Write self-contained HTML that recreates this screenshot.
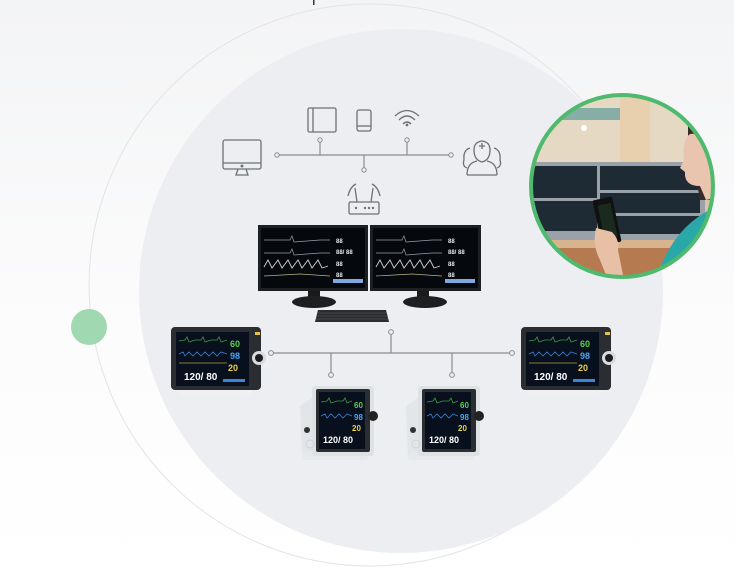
<!DOCTYPE html>
<html><head><meta charset="utf-8"><style>
html,body{margin:0;padding:0;background:#fff}
svg{display:block}
</style></head><body>
<svg width="734" height="569" viewBox="0 0 734 569" xmlns="http://www.w3.org/2000/svg" font-family="Liberation Sans, sans-serif">
<defs>
<linearGradient id="bg" x1="0" y1="0" x2="0" y2="1">
<stop offset="0" stop-color="#f3f4f5"/><stop offset="0.5" stop-color="#fbfbfc"/><stop offset="1" stop-color="#ffffff"/>
</linearGradient>
<clipPath id="pc"><circle cx="622" cy="186" r="90"/></clipPath>
<g id="bed">
<rect x="8" y="60" width="72" height="9" rx="3" fill="#eef0f2"/>
<rect x="0" y="0" width="90" height="63" rx="4" fill="#2a2d31"/>
<rect x="5" y="5" width="73" height="54" fill="#07101c"/>
<polyline points="8,14 14,13 16,10 18,15 24,13 30,13 32,10 34,15 40,13 46,13 48,10 50,15 56,13" fill="none" stroke="#3c9a44" stroke-width="0.8"/>
<polyline points="8,27 12,25 14,29 18,25 22,29 26,25 30,29 34,25 38,29 42,25 46,29 50,25 56,27" fill="none" stroke="#3a7fd0" stroke-width="0.8"/>
<polyline points="8,36 56,36" stroke="#b9a23a" stroke-width="0.8"/>
<text x="59" y="20" font-size="9" fill="#59d04b" font-weight="bold">60</text>
<text x="59" y="32" font-size="9" fill="#4aa5f0" font-weight="bold">98</text>
<text x="57" y="44" font-size="9" fill="#e5d24a" font-weight="bold">20</text>
<text x="13" y="53" font-size="10" fill="#fff" font-weight="bold">120/ 80</text>
<rect x="52" y="52" width="22" height="3" fill="#3d84d6"/>
<rect x="84" y="5" width="5" height="3" fill="#e8c23a"/>
<circle cx="88" cy="31" r="7" fill="#d9dbde"/><circle cx="88" cy="31" r="4" fill="#1a1c1f"/>
</g>
<g id="cart">
<path d="M2,22 L20,10 L20,72 L4,74 Z" fill="#e3e6e9"/>
<rect x="4" y="68" width="66" height="8" rx="3" fill="#e6e9ec"/>
<rect x="14" y="2" width="62" height="70" rx="3" fill="#dfe2e5"/>
<rect x="18" y="5" width="54" height="63" rx="2" fill="#2a2d31"/>
<rect x="21" y="8" width="46" height="57" fill="#07101c"/>
<polyline points="23,18 29,17 31,14 33,19 39,17 45,17 47,14 49,19 54,17" fill="none" stroke="#3c9a44" stroke-width="0.8"/>
<polyline points="23,32 27,30 29,34 33,30 37,34 41,30 45,34 49,30 54,32" fill="none" stroke="#3a7fd0" stroke-width="0.8"/>
<text x="56" y="24" font-size="8" fill="#59d04b" font-weight="bold">60</text>
<text x="56" y="36" font-size="8" fill="#4aa5f0" font-weight="bold">98</text>
<text x="54" y="47" font-size="8" fill="#e5d24a" font-weight="bold">20</text>
<text x="25" y="59" font-size="9" fill="#fff" font-weight="bold">120/ 80</text>
<circle cx="75" cy="32" r="5" fill="#222"/>
<circle cx="9" cy="46" r="3" fill="#333"/>
<circle cx="12" cy="60" r="4" fill="none" stroke="#cfd3d7"/>
</g>
</defs>
<rect width="734" height="569" fill="url(#bg)"/>
<rect x="313" y="0" width="1.5" height="5" fill="#333"/>
<circle cx="370" cy="285" r="281" fill="none" stroke="#e2e4e6" stroke-width="1"/>
<circle cx="401" cy="291" r="262" fill="#eceef1"/>
<circle cx="89" cy="327" r="18" fill="#9fd8b1"/>

<g stroke="#8a8d91" stroke-width="1.2" fill="none">
<line x1="279" y1="155" x2="449" y2="155"/>
<line x1="320" y1="142" x2="320" y2="155"/>
<line x1="407" y1="142" x2="407" y2="155"/>
<line x1="364" y1="155" x2="364" y2="168"/>
</g>
<g fill="#eceef1" stroke="#8a8d91" stroke-width="1">
<circle cx="277" cy="155" r="2.2"/><circle cx="451" cy="155" r="2.2"/>
<circle cx="320" cy="140" r="2.2"/><circle cx="407" cy="140" r="2.2"/><circle cx="364" cy="170" r="2.2"/>
</g>
<g stroke="#6e7175" stroke-width="1.3" fill="none">
<rect x="223" y="140" width="38" height="29" rx="2"/>
<line x1="223" y1="163" x2="261" y2="163"/>
<path d="M238,169 L236,175 L248,175 L246,169"/>
<rect x="308" y="108" width="28" height="24" rx="1.5"/>
<line x1="313" y1="108" x2="313" y2="132"/>
<rect x="357" y="110" width="14" height="21" rx="2"/>
<line x1="357" y1="126" x2="371" y2="126"/>
<path d="M395,116 Q407,105 419,116"/><path d="M399,120 Q407,112 415,120"/><path d="M403,124 Q407,120 411,124"/>
<path d="M474,150 Q474,142 482,141 Q490,142 490,150 Q490,160 482,162 Q474,160 474,150 Z"/>
<path d="M467,175 Q467,163 477,161 M497,175 Q497,163 487,161 M467,175 L497,175"/>
<path d="M470,148 Q463,150 464,160 Q462,166 467,168"/><path d="M494,148 Q501,150 500,160 Q502,166 497,168"/>
<path d="M482,143 L482,149 M479,146 L485,146"/>
<rect x="349" y="202" width="30" height="12" rx="1.5"/>
<line x1="357" y1="202" x2="355" y2="188"/><line x1="371" y1="202" x2="373" y2="188"/>
<path d="M348,196 Q350,187 356,184"/><path d="M380,196 Q378,187 372,184"/>
</g>
<circle cx="242" cy="166" r="1.5" fill="#6e7175"/>
<circle cx="407" cy="125" r="1.4" fill="#6e7175"/>
<g fill="#6e7175"><circle cx="356" cy="208" r="1.2"/><circle cx="365" cy="208" r="1.2"/><circle cx="369" cy="208" r="1.2"/><circle cx="373" cy="208" r="1.2"/></g>

<g>
<rect x="258" y="225" width="110" height="66" fill="#1d1f22"/>
<rect x="370" y="225" width="111" height="66" fill="#1d1f22"/>
<rect x="261" y="228" width="104" height="60" fill="#05080c"/>
<rect x="373" y="228" width="105" height="60" fill="#05080c"/>
<g fill="none" stroke="#9aa0a6" stroke-width="0.7">
<polyline points="264,240 290,240 292,236 294,242 320,240 330,240"/>
<polyline points="264,253 290,253 292,249 294,255 320,253 330,253"/>
<polyline points="376,240 402,240 404,236 406,242 432,240 442,240"/>
<polyline points="376,253 402,253 404,249 406,255 432,253 442,253"/>
</g>
<g fill="none" stroke="#d0d3d6" stroke-width="0.9">
<polyline points="264,267 268,260 272,268 278,260 282,268 288,260 292,268 298,260 302,268 308,260 312,268 318,260 322,268 328,266"/>
<polyline points="376,267 380,260 384,268 390,260 394,268 400,260 404,268 410,260 414,268 420,260 424,268 430,260 434,268 440,266"/>
</g>
<polyline points="264,276 300,274 330,276" fill="none" stroke="#b8b08a" stroke-width="0.7"/>
<polyline points="376,276 412,274 442,276" fill="none" stroke="#b8b08a" stroke-width="0.7"/>
<g fill="#e6e6e6" font-size="6" font-weight="bold">
<text x="336" y="243">88</text><text x="336" y="254">88/ 88</text><text x="336" y="266">88</text><text x="336" y="277">88</text>
<text x="448" y="243">88</text><text x="448" y="254">88/ 88</text><text x="448" y="266">88</text><text x="448" y="277">88</text>
</g>
<rect x="333" y="279" width="30" height="4" fill="#7ea8e0"/>
<rect x="445" y="279" width="30" height="4" fill="#7ea8e0"/>
<rect x="308" y="291" width="12" height="9" fill="#1a1a1a"/>
<rect x="417" y="291" width="12" height="9" fill="#1a1a1a"/>
<ellipse cx="314" cy="302" rx="22" ry="6" fill="#1e1f21"/>
<ellipse cx="425" cy="302" rx="22" ry="6" fill="#1e1f21"/>
<path d="M318,310 L386,310 L389,322 L315,322 Z" fill="#2a2c2f"/>
<g stroke="#5a5d61" stroke-width="0.5"><line x1="318" y1="313" x2="386" y2="313"/><line x1="317" y1="316" x2="388" y2="316"/><line x1="316" y1="319" x2="388" y2="319"/></g>
</g>

<g stroke="#8a8d91" stroke-width="1.2" fill="none">
<line x1="273" y1="353" x2="510" y2="353"/>
<line x1="391" y1="334" x2="391" y2="353"/>
<line x1="331" y1="353" x2="331" y2="373"/>
<line x1="452" y1="353" x2="452" y2="373"/>
</g>
<g fill="#eceef1" stroke="#8a8d91" stroke-width="1">
<circle cx="271" cy="353" r="2.4"/><circle cx="512" cy="353" r="2.4"/>
<circle cx="391" cy="332" r="2.4"/><circle cx="331" cy="375" r="2.4"/><circle cx="452" cy="375" r="2.4"/>
</g>
<use href="#bed" x="171" y="327"/>
<use href="#bed" x="521" y="327"/>
<use href="#cart" x="298" y="384"/>
<use href="#cart" x="404" y="384"/>

<g clip-path="url(#pc)">
<rect x="530" y="94" width="190" height="190" fill="#d9c6a6"/>
<rect x="530" y="94" width="190" height="70" fill="#e6d9c3"/>
<rect x="560" y="108" width="70" height="12" fill="#86aea6"/>
<rect x="620" y="94" width="30" height="70" fill="#e8cfae"/>
<circle cx="584" cy="128" r="3" fill="#fff"/>
<rect x="530" y="162" width="175" height="78" fill="#9aa1a8"/>
<rect x="532" y="166" width="65" height="32" fill="#1f2b34"/>
<rect x="600" y="166" width="100" height="24" fill="#1f2b34"/>
<rect x="600" y="193" width="100" height="20" fill="#1f2b34"/>
<rect x="532" y="201" width="65" height="30" fill="#1f2b34"/>
<rect x="600" y="216" width="100" height="18" fill="#1f2b34"/>
<rect x="530" y="240" width="190" height="45" fill="#b57a50"/>
<rect x="530" y="240" width="190" height="8" fill="#d8b48e"/>
<path d="M688,120 Q710,110 720,125 L720,200 L700,200 Q695,170 688,150 Z" fill="#3a2c28"/>
<path d="M690,134 Q682,140 684,160 L680,168 L685,172 Q684,186 700,186 L706,200 L715,198 L712,150 Q705,132 690,134 Z" fill="#e9c4ae"/>
<path d="M655,285 Q670,225 720,205 L720,285 Z" fill="#2aa7a8"/>
<rect x="597" y="198" width="20" height="46" rx="2" fill="#111" transform="rotate(-12 607 221)"/>
<rect x="601" y="204" width="13" height="34" fill="#1b2a1e" transform="rotate(-12 607 221)"/>
<path d="M596,228 Q592,245 600,260 L610,285 L625,285 L618,250 Q620,240 612,232 Z" fill="#e8c0a6"/>
</g>
<circle cx="622" cy="186" r="91" fill="none" stroke="#4fb96e" stroke-width="4"/>
</svg>
</body></html>
